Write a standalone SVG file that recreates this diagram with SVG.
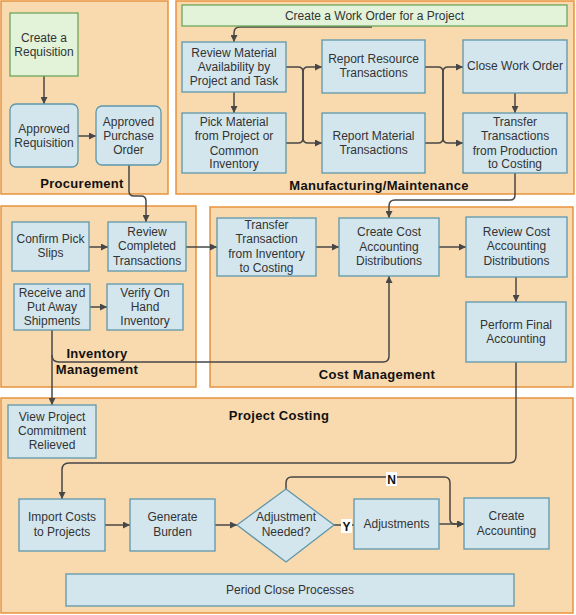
<svg xmlns="http://www.w3.org/2000/svg" width="576" height="615" viewBox="0 0 576 615">
<style>
.panel{fill:#f9d9ae;stroke:#e6933e;stroke-width:1.5}
.node{fill:#d3e6ee;stroke:#5e97ab;stroke-width:1.3}
.start{fill:#e2f3da;stroke:#6ea65c;stroke-width:1.3}
text{font-family:"Liberation Sans",Arial,sans-serif;font-size:12px;fill:#333;text-anchor:middle}
.lbl{font-weight:bold;font-size:13px;fill:#111;letter-spacing:0.3px}
.yn{font-weight:bold;font-size:12px;fill:#111}
.c{fill:none;stroke:#474747;stroke-width:1.5}
</style>
<defs>
<marker id="ah" viewBox="0 0 10 10" refX="10" refY="5" markerWidth="8" markerHeight="7" markerUnits="userSpaceOnUse" orient="auto">
<path d="M0,0 L10,5 L0,10 Z" fill="#474747"/>
</marker>
</defs>

<g id="panels">
<rect class="panel" x="1" y="1" width="167" height="193"/>
<rect class="panel" x="176" y="1" width="398" height="193"/>
<rect class="panel" x="1" y="206" width="195" height="181"/>
<rect class="panel" x="210" y="207" width="363" height="180"/>
<rect class="panel" x="1" y="398" width="572" height="215"/>
<text class="lbl" x="82" y="188">Procurement</text>
<text class="lbl" x="379" y="190">Manufacturing/Maintenance</text>
<text class="lbl" x="97" y="358">Inventory</text>
<text class="lbl" x="97" y="374">Management</text>
<text class="lbl" x="377" y="379">Cost Management</text>
<text class="lbl" x="279" y="420">Project Costing</text>
</g>

<g id="connectors">
<path class="c" d="M44,76 V104" marker-end="url(#ah)"/>
<path class="c" d="M78,136 H96" marker-end="url(#ah)"/>
<path class="c" d="M129,165 V191 Q129,196 134,196 H141 Q146,196 146,201 V222" marker-end="url(#ah)"/>
<path class="c" d="M372,27 H240 Q234,27 234,33 V42" marker-end="url(#ah)"/>
<path class="c" d="M234,92 V113" marker-end="url(#ah)"/>
<path class="c" d="M286,67 H298 Q303,67 303,72 V138 Q303,143 308,143 H322" marker-end="url(#ah)"/>
<path class="c" d="M286,143 H298 Q303,143 303,138 V72 Q303,67 308,67 H322" marker-end="url(#ah)"/>
<path class="c" d="M425,67 H438 Q443,67 443,72 V138 Q443,143 448,143 H463" marker-end="url(#ah)"/>
<path class="c" d="M425,143 H438 Q443,143 443,138 V72 Q443,67 448,67 H463" marker-end="url(#ah)"/>
<path class="c" d="M515,93 V113" marker-end="url(#ah)"/>
<path class="c" d="M515,173 V195 Q515,200 510,200 H395 Q389,200 389,206 V218" marker-end="url(#ah)"/>
<path class="c" d="M89,247 H108" marker-end="url(#ah)"/>
<path class="c" d="M186,247 H217" marker-end="url(#ah)"/>
<path class="c" d="M90,307 H107" marker-end="url(#ah)"/>
<path class="c" d="M52,330 V405" marker-end="url(#ah)"/>
<path class="c" d="M52,355 Q52,362 59,362 H383 Q389,362 389,356 V276" marker-end="url(#ah)"/>
<path class="c" d="M316,247 H339" marker-end="url(#ah)"/>
<path class="c" d="M439,247 H466" marker-end="url(#ah)"/>
<path class="c" d="M516,277 V302" marker-end="url(#ah)"/>
<path class="c" d="M516,362 V456 Q516,463 509,463 H69 Q62,463 62,470 V499" marker-end="url(#ah)"/>
<path class="c" d="M105,525 H130" marker-end="url(#ah)"/>
<path class="c" d="M215,525 H237" marker-end="url(#ah)"/>
<path class="c" d="M334,525 H354"/>
<path class="c" d="M439,524 H464" marker-end="url(#ah)"/>
<path class="c" d="M286,489 V483 Q286,477 292,477 H444 Q450,477 450,483 V519 Q450,524 455,524 H464" marker-end="url(#ah)"/>
<rect x="386" y="472" width="11" height="14" fill="#fff"/>
<text class="yn" x="391.5" y="484">N</text>
<rect x="341" y="519" width="11" height="14" fill="#fff"/>
<text class="yn" x="346.5" y="531">Y</text>
</g>

<g id="n-create-req">
<rect class="start" x="10" y="13" width="68" height="63"/>
<text x="44" y="41.5">Create a</text>
<text x="44" y="55.5">Requisition</text>
</g>
<g id="n-approved-req">
<rect class="node" x="10" y="104" width="68" height="63" rx="6"/>
<text x="44" y="133">Approved</text>
<text x="44" y="147">Requisition</text>
</g>
<g id="n-approved-po">
<rect class="node" x="96" y="106" width="65" height="59" rx="6"/>
<text x="128.5" y="125.5">Approved</text>
<text x="128.5" y="139.5">Purchase</text>
<text x="128.5" y="153.5">Order</text>
</g>

<g id="n-work-order">
<rect class="start" x="182" y="5" width="385" height="21"/>
<text x="374.5" y="20">Create a Work Order for a Project</text>
</g>
<g id="n-review-material">
<rect class="node" x="182" y="42" width="104" height="50"/>
<text x="234" y="56.5">Review Material</text>
<text x="234" y="71">Availability by</text>
<text x="234" y="85">Project and Task</text>
</g>
<g id="n-pick-material">
<rect class="node" x="182" y="113" width="104" height="60"/>
<text x="234" y="126">Pick Material</text>
<text x="234" y="140">from Project or</text>
<text x="234" y="154.5">Common</text>
<text x="234" y="168">Inventory</text>
</g>
<g id="n-report-resource">
<rect class="node" x="322" y="40" width="103" height="53"/>
<text x="373.5" y="63">Report Resource</text>
<text x="373.5" y="77">Transactions</text>
</g>
<g id="n-report-material">
<rect class="node" x="322" y="113" width="103" height="60"/>
<text x="373.5" y="140">Report Material</text>
<text x="373.5" y="154">Transactions</text>
</g>
<g id="n-close-wo">
<rect class="node" x="463" y="40" width="104" height="53"/>
<text x="515" y="70">Close Work Order</text>
</g>
<g id="n-transfer-prod">
<rect class="node" x="463" y="113" width="104" height="60"/>
<text x="515" y="126">Transfer</text>
<text x="515" y="140">Transactions</text>
<text x="515" y="154.5">from Production</text>
<text x="515" y="168">to Costing</text>
</g>

<g id="n-confirm-pick">
<rect class="node" x="12" y="222" width="77" height="49"/>
<text x="50.5" y="242.5">Confirm Pick</text>
<text x="50.5" y="256.5">Slips</text>
</g>
<g id="n-review-completed">
<rect class="node" x="108" y="222" width="78" height="49"/>
<text x="147" y="236">Review</text>
<text x="147" y="250">Completed</text>
<text x="147" y="264.5">Transactions</text>
</g>
<g id="n-receive">
<rect class="node" x="14" y="284" width="76" height="46"/>
<text x="52" y="297">Receive and</text>
<text x="52" y="311">Put Away</text>
<text x="52" y="325">Shipments</text>
</g>
<g id="n-verify">
<rect class="node" x="107" y="284" width="76" height="46"/>
<text x="145" y="296.5">Verify On</text>
<text x="145" y="310.5">Hand</text>
<text x="145" y="324.5">Inventory</text>
</g>

<g id="n-transfer-inv">
<rect class="node" x="217" y="218" width="99" height="58"/>
<text x="266.5" y="228.5">Transfer</text>
<text x="266.5" y="243">Transaction</text>
<text x="266.5" y="258">from Inventory</text>
<text x="266.5" y="272">to Costing</text>
</g>
<g id="n-create-cost">
<rect class="node" x="339" y="218" width="100" height="58"/>
<text x="389" y="236">Create Cost</text>
<text x="389" y="250.5">Accounting</text>
<text x="389" y="264.5">Distributions</text>
</g>
<g id="n-review-cost">
<rect class="node" x="466" y="217" width="101" height="60"/>
<text x="516.5" y="236">Review Cost</text>
<text x="516.5" y="250">Accounting</text>
<text x="516.5" y="264.5">Distributions</text>
</g>
<g id="n-final">
<rect class="node" x="466" y="302" width="100" height="60"/>
<text x="516" y="329">Perform Final</text>
<text x="516" y="343">Accounting</text>
</g>

<g id="n-view-commitment">
<rect class="node" x="8" y="405" width="88" height="53"/>
<text x="52" y="421">View Project</text>
<text x="52" y="435">Commitment</text>
<text x="52" y="449">Relieved</text>
</g>
<g id="n-import">
<rect class="node" x="19" y="499" width="86" height="52"/>
<text x="62" y="521">Import Costs</text>
<text x="62" y="536">to Projects</text>
</g>
<g id="n-burden">
<rect class="node" x="130" y="499" width="85" height="52"/>
<text x="172.5" y="521">Generate</text>
<text x="172.5" y="536">Burden</text>
</g>
<g id="n-decision">
<polygon class="node" points="237,525 286,489 334,525 286,562"/>
<text x="286" y="521">Adjustment</text>
<text x="286" y="536">Needed?</text>
</g>
<g id="n-adjustments">
<rect class="node" x="354" y="499" width="85" height="50"/>
<text x="396.5" y="528">Adjustments</text>
</g>
<g id="n-create-accounting">
<rect class="node" x="464" y="498" width="85" height="51"/>
<text x="506.5" y="520">Create</text>
<text x="506.5" y="535">Accounting</text>
</g>
<g id="n-period-close">
<rect class="node" x="66" y="574" width="448" height="32"/>
<text x="290" y="594">Period Close Processes</text>
</g>
</svg>
